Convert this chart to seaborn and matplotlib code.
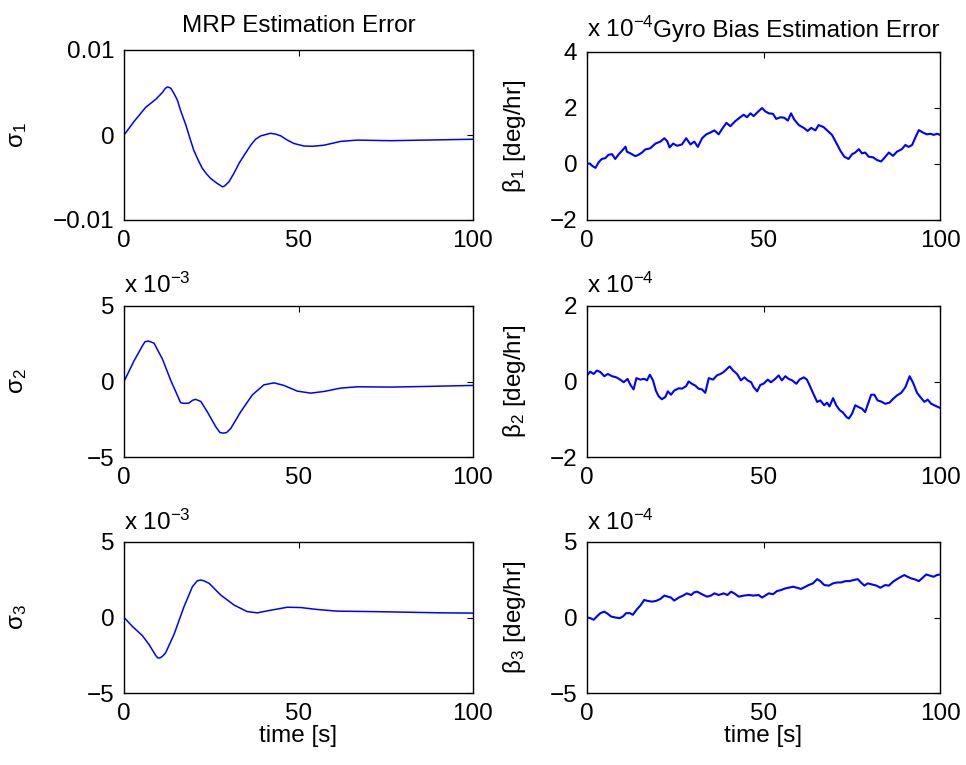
import numpy as np
import pandas as pd
import matplotlib
matplotlib.use("Agg")
import matplotlib.pyplot as plt
import seaborn as sns

# ---------------- data ----------------
time_label = "time [s]"
x_ticks = [0, 50, 100]

# MRP estimation error sigma_1 (real units)
s1_t = [0, 2.9, 6.2, 9.1, 11.0, 11.5, 11.9, 12.4, 12.9, 13.4, 14.3, 15.3, 16.2, 17.7, 18.9,
        20.0, 21.2, 22.4, 23.7, 24.8, 26.7, 27.5, 28.2, 28.8, 30.1, 31.5, 33.0, 34.4, 36.3,
        37.7, 39.2, 42.0, 43.5, 44.9, 46.8, 48.7, 51.6, 54.0, 57.3, 62.1, 66.9, 76.4, 86.0, 100]
s1_v = [0, 0.0016, 0.00325, 0.0042, 0.0050, 0.0053, 0.0055, 0.00565, 0.0056, 0.0055, 0.0049,
        0.0041, 0.0029, 0.0012, -0.0004, -0.0018, -0.0029, -0.0039, -0.0046, -0.0051, -0.0057,
        -0.0059, -0.0061, -0.0060, -0.0055, -0.0045, -0.0033, -0.0024, -0.0012, -0.0005,
        -0.0001, 0.0002, 0.0001, -0.0001, -0.0006, -0.0010, -0.0013, -0.00133, -0.0012,
        -0.00075, -0.0006, -0.00067, -0.0006, -0.0005]

# sigma_2 (x 1e-3)
s2_t = [0, 2.9, 5.3, 6.0, 6.9, 7.6, 8.6, 11.0, 13.4, 15.3, 16.2, 17.2, 18.6, 19.6, 20.5, 22.0,
        23.9, 26.3, 27.5, 28.5, 29.4, 30.6, 33.4, 36.8, 40.1, 43.0, 45.8, 49.7, 53.5, 57.3,
        62.0, 66.9, 76.4, 86.0, 100]
s2_v = [0, 1.38, 2.37, 2.63, 2.68, 2.63, 2.54, 1.49, 0.07, -0.92, -1.40, -1.45, -1.43, -1.25,
        -1.18, -1.32, -2.02, -3.0, -3.38, -3.42, -3.38, -3.11, -2.02, -0.88, -0.22, -0.09,
        -0.26, -0.64, -0.77, -0.66, -0.44, -0.35, -0.37, -0.33, -0.26]

# sigma_3 (x 1e-3)
s3_t = [0, 2.4, 5.3, 7.2, 9.1, 9.7, 10.3, 11.0, 11.9, 14.3, 17.2, 19.6, 21.0, 22.0, 22.9, 24.4,
        27.7, 31.5, 35.3, 38.2, 42.0, 46.8, 50.6, 55.4, 61.1, 71.6, 81.2, 90.7, 100]
s3_v = [0, -0.59, -1.21, -1.80, -2.52, -2.68, -2.68, -2.57, -2.35, -1.14, 0.72, 2.04, 2.43,
        2.48, 2.43, 2.26, 1.49, 0.83, 0.39, 0.31, 0.48, 0.68, 0.66, 0.53, 0.42, 0.39, 0.35,
        0.31, 0.29]

# gyro bias estimation error beta_1 (x 1e-4 deg/hr)
b1_t = [0, 0.8, 1.4, 2.4, 3.3, 4.2, 5.2, 6.1, 7.1, 8.0,
        9.0, 9.9, 10.9, 11.3, 12.3, 13.7, 14.6, 15.6, 16.5, 17.9,
        19.4, 20.8, 21.9, 22.7, 23.4, 24.4, 25.5, 26.9, 28.1, 29.3,
        30.4, 31.4, 32.6, 33.8, 34.9, 36.1, 37.3, 38.2, 39.5, 40.6,
        42.0, 43.2, 44.4, 45.3, 46.3, 47.2, 48.3, 49.6, 50.5, 51.5,
        52.7, 53.6, 54.8, 55.9, 56.9, 57.8, 58.7, 60.0, 61.4, 62.5,
        63.5, 64.7, 65.6, 67.0, 68.2, 69.4, 70.6, 71.8, 72.9, 74.1,
        75.1, 76.0, 77.0, 77.9, 78.8, 79.8, 81.0, 82.2, 83.3, 84.2,
        85.5, 86.7, 87.8, 89.2, 90.2, 91.1, 92.1, 93.0, 94.0, 95.2,
        96.3, 97.3, 98.2, 99.2, 100]
b1_v = [0, 0.02, -0.06, -0.14, 0.06, 0.18, 0.21, 0.33, 0.35, 0.18,
        0.35, 0.47, 0.62, 0.44, 0.38, 0.28, 0.33, 0.41, 0.52, 0.56,
        0.73, 0.80, 0.92, 0.82, 0.59, 0.73, 0.65, 0.70, 0.92, 0.70,
        0.80, 0.61, 0.92, 1.06, 1.12, 1.20, 1.06, 1.24, 1.47, 1.35,
        1.53, 1.65, 1.76, 1.67, 1.81, 1.71, 1.85, 2.00, 1.88, 1.81,
        1.79, 1.61, 1.67, 1.65, 1.55, 1.81, 1.59, 1.39, 1.29, 1.18,
        1.29, 1.20, 1.39, 1.32, 1.18, 1.04, 0.76, 0.47, 0.26, 0.18,
        0.35, 0.41, 0.53, 0.38, 0.41, 0.26, 0.24, 0.14, 0.09, 0.21,
        0.41, 0.29, 0.44, 0.53, 0.68, 0.61, 0.68, 0.94, 1.21, 1.12,
        1.06, 1.08, 1.04, 1.08, 1.04]

# beta_2 (x 1e-4 deg/hr)
b2_t = [0, 0.9, 1.9, 2.8, 3.8, 4.9, 5.9, 7.1, 8.3, 9.4,
        10.4, 11.5, 12.3, 13.2, 14.0, 15.1, 16.2, 17.0, 17.8, 18.7,
        19.5, 20.3, 21.2, 22.2, 22.9, 23.8, 24.7, 26.0, 26.9, 28.1,
        28.8, 29.7, 30.7, 31.6, 32.6, 33.5, 34.5, 35.7, 36.8, 37.8,
        38.7, 39.5, 40.4, 41.4, 42.5, 43.6, 44.6, 45.5, 46.5, 47.2,
        48.2, 49.1, 50.0, 51.2, 52.1, 53.1, 54.3, 55.2, 56.2, 57.1,
        58.1, 59.3, 60.2, 61.4, 62.3, 63.1, 64.0, 65.2, 66.1, 67.2,
        68.0, 68.7, 69.7, 70.6, 71.6, 72.5, 73.5, 74.2, 75.1, 76.0,
        77.0, 77.9, 78.8, 79.8, 80.5, 81.4, 82.3, 83.3, 84.5, 85.7,
        86.7, 87.8, 89.0, 90.2, 91.4, 92.4, 93.5, 94.4, 95.6, 96.5,
        97.5, 98.4, 100]
b2_v = [0.16, 0.26, 0.20, 0.29, 0.25, 0.14, 0.20, 0.14, 0.11, 0.05,
        -0.02, 0.07, -0.09, -0.21, 0.09, 0.05, 0.07, 0.03, 0.18, 0.03,
        -0.24, -0.39, -0.47, -0.41, -0.26, -0.35, -0.24, -0.18, -0.19, -0.12,
        0.00, -0.06, -0.11, -0.19, -0.21, -0.30, 0.09, 0.05, 0.16, 0.20,
        0.25, 0.32, 0.40, 0.29, 0.20, 0.03, 0.11, 0.03, -0.02, -0.15,
        -0.26, -0.09, -0.06, 0.05, -0.02, 0.05, 0.16, 0.03, 0.14, 0.07,
        0.03, -0.06, 0.05, 0.11, 0.05, -0.11, -0.30, -0.54, -0.50, -0.63,
        -0.56, -0.66, -0.44, -0.63, -0.76, -0.82, -0.94, -0.98, -0.85, -0.63,
        -0.68, -0.72, -0.81, -0.54, -0.35, -0.35, -0.50, -0.53, -0.59, -0.56,
        -0.46, -0.37, -0.30, -0.15, 0.14, -0.04, -0.30, -0.41, -0.54, -0.48,
        -0.59, -0.63, -0.70]

# beta_3 (x 1e-4 deg/hr)
b3_t = [0, 0.9, 1.9, 2.8, 3.8, 4.9, 5.9, 6.8, 8.0, 9.3,
        10.2, 11.1, 12.1, 13.0, 14.0, 15.1, 16.2, 17.2, 18.4, 19.6,
        20.8, 21.9, 22.9, 23.8, 24.7, 26.0, 27.2, 28.3, 29.5, 30.4,
        31.2, 32.1, 33.0, 34.0, 35.1, 36.1, 37.3, 38.7, 39.8, 40.8,
        41.7, 43.0, 44.4, 45.8, 47.2, 48.6, 49.6, 50.5, 51.5, 52.7,
        53.8, 55.0, 56.2, 57.1, 58.4, 59.5, 60.6, 61.9, 62.8, 64.0,
        65.2, 66.1, 67.2, 68.5, 69.7, 70.8, 72.0, 73.2, 74.4, 75.5,
        76.7, 77.6, 78.6, 79.5, 80.7, 82.0, 83.1, 84.5, 85.5, 86.7,
        87.8, 89.0, 89.9, 90.8, 91.8, 92.7, 94.0, 94.9, 96.1, 97.3,
        98.2, 99.1, 100]
b3_v = [0, -0.04, -0.15, 0.07, 0.29, 0.39, 0.24, 0.07, 0, -0.04,
        0.07, 0.29, 0.29, 0.18, 0.50, 0.79, 1.16, 1.10, 1.05, 1.10,
        1.23, 1.45, 1.38, 1.32, 1.12, 1.32, 1.45, 1.60, 1.49, 1.67,
        1.71, 1.60, 1.49, 1.38, 1.45, 1.60, 1.49, 1.60, 1.49, 1.71,
        1.60, 1.38, 1.45, 1.49, 1.45, 1.49, 1.32, 1.45, 1.60, 1.54,
        1.75, 1.82, 1.93, 1.97, 2.04, 1.97, 1.89, 2.04, 2.15, 2.26,
        2.54, 2.41, 2.15, 2.11, 2.26, 2.32, 2.32, 2.41, 2.41, 2.48,
        2.54, 2.32, 2.11, 2.26, 2.19, 2.11, 1.97, 2.15, 2.11, 2.37,
        2.54, 2.70, 2.81, 2.70, 2.59, 2.54, 2.41, 2.59, 2.85, 2.76,
        2.70, 2.81, 2.85]

# axis ticks / labels
s1_ticks = [-0.01, 0, 0.01]
s1_ticklabels = ["\u22120.01", "0", "0.01"]
s_ticks = [-5, 0, 5]
b1_ticks = [-2, 0, 2, 4]
b2_ticks = [-2, 0, 2]
b3_ticks = [-5, 0, 5]

left_title = "MRP Estimation Error"
right_title = "Gyro Bias Estimation Error"
left_exp = r"x 10$^{-3}$"
right_exp = r"x 10$^{-4}$"

# ---------------- style ----------------
sns.set_theme(style="white")
plt.rcParams["font.family"] = ["Liberation Sans", "DejaVu Sans"]
plt.rcParams["mathtext.fontset"] = "custom"
plt.rcParams["mathtext.rm"] = "Liberation Sans"
plt.rcParams["mathtext.it"] = "Liberation Sans"
plt.rcParams["mathtext.default"] = "regular"
plt.rcParams["text.color"] = "black"
plt.rcParams["axes.labelcolor"] = "black"
plt.rcParams["xtick.color"] = "black"
plt.rcParams["ytick.color"] = "black"
FS = 17.5

W, H = 966, 765
fig = plt.figure(figsize=(W / 100, H / 100), dpi=100)
fig.patch.set_facecolor("white")


def px_axes(x0, y0, x1, y1):
    return fig.add_axes([x0 / W, 1 - y1 / H, (x1 - x0) / W, (y1 - y0) / H])


ax_s1 = px_axes(124, 50, 473, 220)
ax_s2 = px_axes(124, 306, 473, 457)
ax_s3 = px_axes(124, 542, 473, 693)
ax_b1 = px_axes(587, 52, 940, 220)
ax_b2 = px_axes(587, 306, 940, 457)
ax_b3 = px_axes(587, 542, 940, 693)

series = [
    (ax_s1, s1_t, s1_v, 1.1),
    (ax_s2, s2_t, s2_v, 1.1),
    (ax_s3, s3_t, s3_v, 1.1),
    (ax_b1, b1_t, b1_v, 1.5),
    (ax_b2, b2_t, b2_v, 1.5),
    (ax_b3, b3_t, b3_v, 1.5),
]
for ax, t, v, lw in series:
    df = pd.DataFrame({"t": t, "v": v})
    sns.lineplot(data=df, x="t", y="v", ax=ax, color="#0000FF", linewidth=lw,
                 estimator=None, sort=False)
    ax.set_xlim(0, 100)
    ax.set_xticks(x_ticks)
    ax.set_xticklabels([str(x) for x in x_ticks])
    ax.set_xlabel("")
    ax.set_ylabel("")
    ax.tick_params(direction="in", top=True, right=True, length=4.5, width=0.8,
                   labelsize=FS, colors="black", pad=7)
    for sp in ax.spines.values():
        sp.set_visible(True)
        sp.set_color("black")
        sp.set_linewidth(1.0)
    ax.grid(False)


def fmt(v):
    return str(v).replace("-", "\u2212")


ax_s1.set_ylim(-0.01, 0.01)
ax_s1.set_yticks(s1_ticks)
ax_s1.set_yticklabels(s1_ticklabels)
for ax in (ax_s2, ax_s3):
    ax.set_ylim(-5, 5)
    ax.set_yticks(s_ticks)
    ax.set_yticklabels([fmt(v) for v in s_ticks])
ax_b1.set_ylim(-2, 4)
ax_b1.set_yticks(b1_ticks)
ax_b1.set_yticklabels([fmt(v) for v in b1_ticks])
ax_b2.set_ylim(-2, 2)
ax_b2.set_yticks(b2_ticks)
ax_b2.set_yticklabels([fmt(v) for v in b2_ticks])
ax_b3.set_ylim(-5, 5)
ax_b3.set_yticks(b3_ticks)
ax_b3.set_yticklabels([fmt(v) for v in b3_ticks])

# y labels
for i, ax in enumerate((ax_s1, ax_s2, ax_s3), start=1):
    ax.set_ylabel(r"$σ_{%d}$" % i, fontsize=FS, va="center", color="black")
    ax.yaxis.set_label_coords(-0.305, 0.5)
for i, ax in enumerate((ax_b1, ax_b2, ax_b3), start=1):
    ax.set_ylabel(r"$β_{%d}$ [deg/hr]" % i, fontsize=FS, va="center", color="black")
    ax.yaxis.set_label_coords(-0.204, 0.5)

# x labels
for ax in (ax_s3, ax_b3):
    ax.set_xlabel(time_label, fontsize=FS, va="top", color="black")
    ax.xaxis.set_label_coords(0.5, -0.215)


def ftext(x, y, s, **kw):
    fig.text(x / W, 1 - y / H, s, fontsize=FS, va="baseline", color="black", **kw)


ftext(298.5, 32, left_title, ha="center")
ftext(587, 37, right_exp, ha="left")
ftext(653, 37, right_title, ha="left")
for yb in (293, 530):
    ftext(124, yb, left_exp, ha="left")
    ftext(587, yb, right_exp, ha="left")

fig.savefig("out.png", dpi=100, facecolor="white")
